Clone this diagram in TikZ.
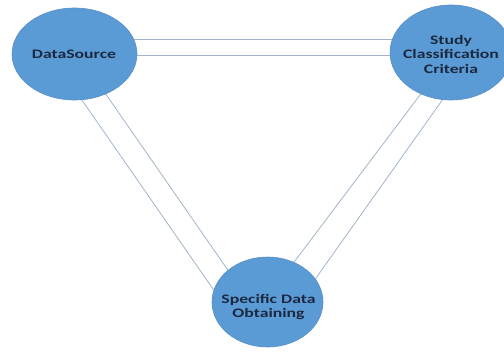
\documentclass[tikz,border=0pt]{standalone}
\usepackage{fontspec}
\setmainfont{Carlito}[FakeStretch=1.36]
\usetikzlibrary{shapes.geometric,backgrounds}
\definecolor{ellfill}{HTML}{5B9BD5}
\definecolor{elledge}{HTML}{5A8FC4}
\definecolor{txtcol}{HTML}{1C2840}
\definecolor{linkcol}{HTML}{A3B4CA}
\tikzset{
  bubble/.style={ellipse, fill=ellfill, draw=elledge, line width=0.6pt, inner sep=0pt},
  bubtext/.style={text=txtcol, font=\bfseries\fontsize{13}{14.5}\selectfont, align=center, inner sep=0pt},
  link/.style={draw=linkcol, line width=0.8pt}
}
\begin{document}
\begin{tikzpicture}[x=1pt,y=1pt]
\useasboundingbox (0,0) rectangle (504,-353);
\node[bubble, minimum width=125pt, minimum height=92pt] (a) at (74.5,-54) {};
\node[bubble, minimum width=122pt, minimum height=95pt] (b) at (451,-52.5) {};
\node[bubble, minimum width=111pt, minimum height=90pt] (c) at (267.5,-302) {};
\node[bubtext] (ta) at ([xshift=-0.5pt]a.center) {DataSource};
\node[bubtext] (tb) at ([yshift=-1.5pt]b.center) {Study\\Classification\\Criteria};
\node[bubtext] (tc) at ([xshift=1pt,yshift=-5pt]c.center) {Specific Data\\Obtaining};
\begin{pgfonlayer}{background}
\draw[link] ([yshift=15pt]a.center) -- ([yshift=13.5pt]b.center);
\draw[link] ([yshift=-1pt]a.center) -- ([yshift=-2.5pt]b.center);
\draw[link] ([xshift=-24.5pt]a.center) -- ([xshift=-45.5pt]c.center);
\draw[link] ([xshift=3.5pt]a.center) -- ([xshift=-17.5pt]c.center);
\draw[link] ([xshift=1pt]b.center) -- ([xshift=-3.5pt]c.center);
\draw[link] ([xshift=25pt]b.center) -- ([xshift=31.5pt]c.center);
\end{pgfonlayer}
\end{tikzpicture}
\end{document}
